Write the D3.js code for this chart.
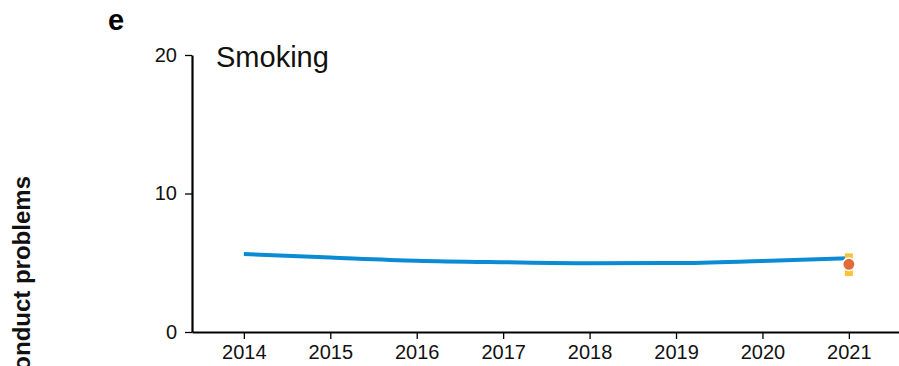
<!DOCTYPE html>
<html>
<head>
<meta charset="utf-8">
<script src="https://cdn.jsdelivr.net/npm/d3@7"></script>
<style>
  html, body { margin: 0; padding: 0; background: #fff; }
  svg { display: block; font-family: "Liberation Sans", Arial, Helvetica, sans-serif; }
</style>
</head>
<body>
<svg id="chart" width="899" height="366"></svg>
<script>
// Modelled trend of conduct problems for the smoking exposure group
const years = [2014, 2015, 2016, 2017, 2018, 2019, 2020, 2021];
const trendValues = [5.63, 5.38, 5.15, 5.04, 4.97, 4.98, 5.13, 5.32];

// Observed estimate (with interval) for the final year
const observedYear = [2021];
const observedValue = [4.89];
const observedLower = [4.04];
const observedUpper = [5.68];

const yTicks = [0, 10, 20];
const panelLetter = "e";
const panelTitle = "Smoking";
const yLabel = "Conduct problems";

const svg = d3.select("#chart");

const x = d3.scaleLinear().domain([2013.4, 2021.58]).range([192, 899]);
const y = d3.scaleLinear().domain([0, 20]).range([332, 55]);

// Axes
const xAxis = svg.append("g")
  .attr("transform", `translate(0,${y(0)})`)
  .call(d3.axisBottom(x).tickValues(years).tickFormat(d3.format("d")).tickSize(7).tickSizeOuter(0).tickPadding(6));
xAxis.select(".domain").attr("stroke", "#000").attr("stroke-width", 2.2);
xAxis.selectAll(".tick line").attr("stroke", "#000").attr("stroke-width", 1.3);
xAxis.selectAll(".tick text").attr("font-size", 20).attr("fill", "#111")
  .attr("font-family", "Liberation Sans, Arial, sans-serif");

const yAxis = svg.append("g")
  .attr("transform", `translate(${x.range()[0]},0)`)
  .call(d3.axisLeft(y).tickValues(yTicks).tickSize(7).tickSizeOuter(0).tickPadding(8));
yAxis.select(".domain").attr("stroke", "#000").attr("stroke-width", 2.2);
yAxis.selectAll(".tick line").attr("stroke", "#000").attr("stroke-width", 1.3);
yAxis.selectAll(".tick text").attr("font-size", 20).attr("fill", "#111")
  .attr("font-family", "Liberation Sans, Arial, sans-serif");

// Trend line
const line = d3.line()
  .x((d, i) => x(years[i]))
  .y(d => y(d))
  .curve(d3.curveMonotoneX);

svg.append("path")
  .datum(trendValues)
  .attr("d", line)
  .attr("fill", "none")
  .attr("stroke", "#0a8bd4")
  .attr("stroke-width", 4)
  .attr("stroke-linecap", "butt");

// Observed point with interval
const obs = observedYear.map((yr, i) => ({
  year: yr, v: observedValue[i], lo: observedLower[i], hi: observedUpper[i]
}));

svg.selectAll(".err").data(obs).enter().append("line")
  .attr("class", "err")
  .attr("x1", d => x(d.year)).attr("x2", d => x(d.year))
  .attr("y1", d => y(d.hi)).attr("y2", d => y(d.lo))
  .attr("stroke", "#f8c33c")
  .attr("stroke-width", 8);

svg.selectAll(".obs").data(obs).enter().append("circle")
  .attr("class", "obs")
  .attr("cx", d => x(d.year))
  .attr("cy", d => y(d.v))
  .attr("r", 6.2)
  .attr("fill", "#e2693a")
  .attr("stroke", "#fff")
  .attr("stroke-width", 1.5);

// Titles
svg.append("text")
  .attr("x", 108).attr("y", 30)
  .attr("font-size", 29).attr("font-weight", "bold")
  .text(panelLetter);

svg.append("text")
  .attr("x", 216).attr("y", 67)
  .attr("font-size", 29)
  .attr("fill", "#111")
  .text(panelTitle);

svg.append("text")
  .attr("transform", "translate(30,176) rotate(-90)")
  .attr("text-anchor", "end")
  .attr("font-size", 24).attr("font-weight", "bold")
  .attr("fill", "#111")
  .text(yLabel);
</script>
</body>
</html>
